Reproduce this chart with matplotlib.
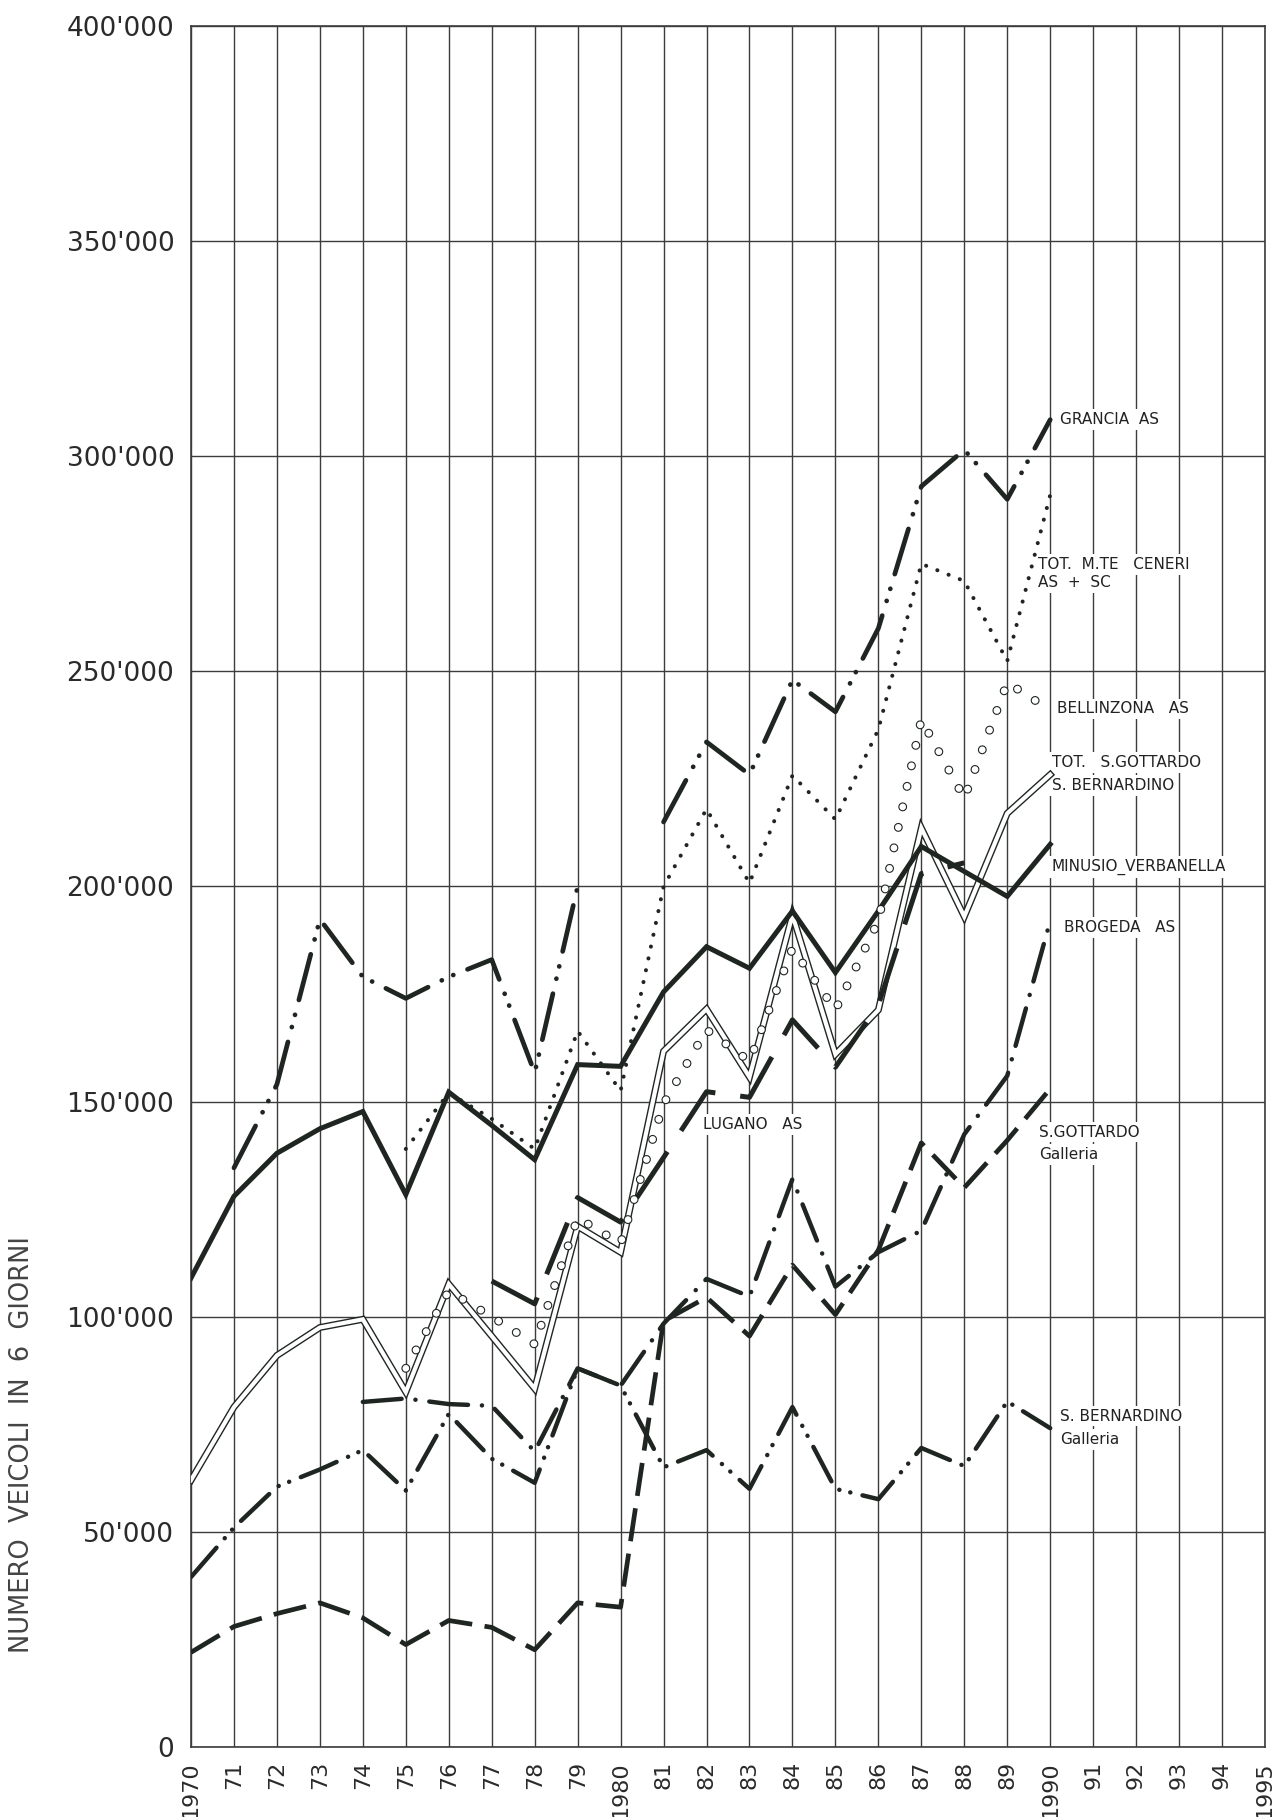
import numpy as np
import matplotlib
matplotlib.use('Agg')
import matplotlib.pyplot as plt

plt.rcParams['font.family'] = ['DejaVu Sans']
plt.rcParams['lines.scale_dashes'] = False

nan = np.nan
years = list(range(1970, 1991))

# values in thousands of vehicles (6 days)
minusio = [109, 128, 138, 143.7, 147.7, 128.4, 152.2, 144.5, 136.5, 158.6, 158.2,
           175.5, 186, 181, 194.3, 180, 194.3, 209.3, 203.5, 197.7, 209.8]
tot_sg_sb = [62, 79, 91, 97.5, 99.4, 82.5, 107.6, 95.5, 83.3, 121, 115,
             161.7, 171.5, 155.7, 193.4, 161, 171.3, 213.6, 193, 217, 226]
s_gottardo = [22, 28, 31, 33.5, 30, 23.8, 29.4, 27.8, 22.6, 33.5, 32.5,
              99, 104.5, 95.5, 112, 100.5, 115.5, 140.4, 130, 141, 153]
s_bernardino = [39.5, 51, 60.5, 64.5, 69, 59.6, 77.4, 67, 61.4, 88, 84,
                65, 69, 60, 79, 60, 57.6, 69.5, 65.3, 80.3, 74.1]
brogeda = [nan, nan, nan, nan, 80.2, 81, 79.7, 79.3, 68.7, 88, 84,
           98.4, 108.8, 104.7, 132, 107, 115, 120, 142.4, 156, 192]
grancia = [nan, 134.6, 154, 192.4, 179, 174, 179, 183, 156.7, 200, nan,
           215, 233.6, 226, 248, 240.6, 260, 293, 301.5, 290, 308.5]
ceneri = [nan, nan, nan, nan, nan, 139, 152, 146, 139, 166.4, 152.5,
          200, 218, 200.8, 225.8, 215.6, 236.5, 275, 271, 252.4, 291]
bellinzona = [nan, nan, nan, nan, nan, 88, 106, 100, 93.6, 123, 117,
              149.5, 166.7, 159.4, 185.6, 171.3, 192, 238.8, 220.5, 247.4, 241]
lugano = [nan, nan, nan, nan, nan, nan, nan, 108.3, 103, 127.7, 122,
          137, 152.3, 151, 169, 158, 172.5, 203, 205.5, nan, nan]

x_labels = ['1970', '71', '72', '73', '74', '75', '76', '77', '78', '79', '1980',
            '81', '82', '83', '84', '85', '86', '87', '88', '89', '1990',
            '91', '92', '93', '94', '1995']
y_ticks = [0, 50000, 100000, 150000, 200000, 250000, 300000, 350000, 400000]

INK = '#1f2621'
GRID = '#3c3c3c'

fig = plt.figure(figsize=(12.78, 18.17), dpi=100)
ax = fig.add_axes([0.14945, 0.03853, 0.84038, 0.94716])
ax.set_xlim(1970, 1995)
ax.set_ylim(0, 400000)

ax.set_xticks(range(1970, 1996))
ax.set_xticklabels(x_labels, rotation=90, fontsize=16, color='#2a2a2a')
ax.set_yticks(y_ticks)
ax.set_yticklabels(['0' if v == 0 else f"{v // 1000}'000" for v in y_ticks],
                   fontsize=19, color='#2a2a2a')
ax.tick_params(axis='both', length=0)
ax.tick_params(axis='y', pad=12)
ax.tick_params(axis='x', pad=10)
ax.grid(True, color=GRID, linewidth=1.0, zorder=0)
ax.set_axisbelow(True)
for s in ax.spines.values():
    s.set_color(GRID)
    s.set_linewidth(1.2)

def k(vals):
    return [v * 1000 for v in vals]

# TOT S.GOTTARDO + S.BERNARDINO : double line
ax.plot(years, k(tot_sg_sb), color=INK, lw=5.0, solid_joinstyle='miter', zorder=4)
ax.plot(years, k(tot_sg_sb), color='white', lw=3.0, solid_joinstyle='miter', zorder=4.1)

# MINUSIO - VERBANELLA : thick solid
ax.plot(years, k(minusio), color=INK, lw=3.6, solid_joinstyle='miter', zorder=5)

# S. GOTTARDO galleria : dashed
ax.plot(years, k(s_gottardo), color=INK, lw=3.4, linestyle=(0, (24, 9)),
        dash_capstyle='butt', zorder=5)

# LUGANO AS : long thick dashes
ax.plot(years, k(lugano), color=INK, lw=3.6, linestyle=(0, (40, 18)),
        dash_capstyle='butt', zorder=5)

# BROGEDA AS : dash-dot
ax.plot(years, k(brogeda), color=INK, lw=3.2, linestyle=(0, (28, 10, 0.1, 10)),
        dash_capstyle='round', zorder=5)

# S. BERNARDINO galleria : dash-dot-dot
ax.plot(years, k(s_bernardino), color=INK, lw=3.2,
        linestyle=(0, (28, 9, 0.1, 8, 0.1, 9)), dash_capstyle='round', zorder=5)

# GRANCIA AS : long dash, two dots
ax.plot(years, k(grancia), color=INK, lw=3.4,
        linestyle=(0, (34, 11, 0.1, 9, 0.1, 11)), dash_capstyle='round', zorder=5)

# TOT. M.TE CENERI : dotted
ax.plot(years, k(ceneri), color=INK, lw=2.9, linestyle=(0, (0.1, 8.6)),
        dash_capstyle='round', zorder=5)

# BELLINZONA AS : open circles
ax.plot(years, k(bellinzona), color=INK, lw=6.4, linestyle=(0, (0.1, 15)),
        dash_capstyle='round', zorder=6)
ax.plot(years, k(bellinzona), color='white', lw=4.8, linestyle=(0, (0.1, 15)),
        dash_capstyle='round', zorder=6.1)

box = dict(facecolor='white', edgecolor='none', pad=2)
labels = [
    (1990.23, 308500, 'GRANCIA  AS'),
    (1989.72, 274800, 'TOT.  M.TE   CENERI'),
    (1989.72, 270600, 'AS  +  SC'),
    (1990.16, 241300, 'BELLINZONA   AS'),
    (1990.04, 228800, 'TOT.   S.GOTTARDO'),
    (1990.04, 223500, 'S. BERNARDINO'),
    (1990.04, 204600, 'MINUSIO_VERBANELLA'),
    (1990.32, 190500, 'BROGEDA   AS'),
    (1981.92, 144700, 'LUGANO   AS'),
    (1989.74, 142900, 'S.GOTTARDO'),
    (1989.74, 137700, 'Galleria'),
    (1990.23, 76900, 'S. BERNARDINO'),
    (1990.23, 71500, 'Galleria'),
]
for x, y, t in labels:
    ax.text(x, y, t, fontsize=11, color='#222222', ha='left', va='center',
            bbox=box, zorder=3)

fig.text(0.017, 0.205, 'NUMERO  VEICOLI  IN  6  GIORNI', rotation=90,
         fontsize=18.5, color='#444444', ha='center', va='center')

fig.savefig('out.png', dpi=100, facecolor='white')
